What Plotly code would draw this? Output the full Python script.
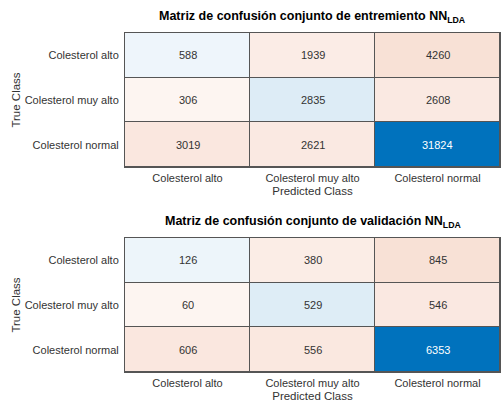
import plotly.graph_objects as go

classes = ["Colesterol alto", "Colesterol muy alto", "Colesterol normal"]
train_matrix = [[588, 1939, 4260],
                [306, 2835, 2608],
                [3019, 2621, 31824]]
valid_matrix = [[126, 380, 845],
                [60, 529, 546],
                [606, 556, 6353]]
titles = ["Matriz de confusión conjunto de entremiento NN<sub>LDA</sub>",
          "Matriz de confusión conjunto de validación NN<sub>LDA</sub>"]

W, H = 501, 405
FONT = "Liberation Sans, Arial, sans-serif"
TXT = "#333333"
BLUE = "#0072BD"
ORANGE = "#D95319"

fig = go.Figure()

panels = [
    (train_matrix, titles[0], (33, 167), "x", "y"),
    (valid_matrix, titles[1], (238, 372), "x2", "y2"),
]
x0p, x1p = 125, 500

for i, (m, title, (ytop, ybot), xa, ya) in enumerate(panels):
    mx = max(max(r) for r in m)
    diag = [[(0.05 + 0.95 * m[r][c] / mx) if r == c else None for c in range(3)] for r in range(3)]
    off = [[(0.05 + 0.95 * m[r][c] / mx) if r != c else None for c in range(3)] for r in range(3)]
    for z, col in ((diag, BLUE), (off, ORANGE)):
        fig.add_trace(go.Heatmap(
            z=z, x=classes, y=classes, xaxis=xa, yaxis=ya,
            colorscale=[[0, "#ffffff"], [1, col]], zmin=0, zmax=1,
            showscale=False, xgap=1, ygap=1, hoverinfo="skip"))
    for r in range(3):
        for c in range(3):
            fig.add_annotation(
                x=classes[c], y=classes[r], xref=xa, yref=ya,
                text=str(m[r][c]), showarrow=False,
                font=dict(family=FONT, size=11,
                          color="#ffffff" if m[r][c] == mx else TXT))
    suffix = "" if i == 0 else "2"
    dom_y = [1 - ybot / H, 1 - ytop / H]
    fig.layout["xaxis" + suffix] = dict(
        domain=[x0p / W, x1p / W], anchor=ya, showgrid=False, zeroline=False,
        showline=True, mirror=True, linecolor="#555555", linewidth=1, ticks="",
        automargin=False, ticklabelstandoff=1,
        tickfont=dict(family=FONT, size=11, color=TXT),
        title=dict(text="Predicted Class", font=dict(family=FONT, size=11.5, color=TXT), standoff=3),
        fixedrange=True)
    fig.layout["yaxis" + suffix] = dict(
        domain=dom_y, anchor=xa, showgrid=False, zeroline=False, autorange="reversed",
        showline=True, mirror=True, linecolor="#555555", linewidth=1, ticks="",
        automargin=False, ticklabelstandoff=3,
        tickfont=dict(family=FONT, size=11, color=TXT),
        title=dict(text="True Class", font=dict(family=FONT, size=11.5, color=TXT), standoff=1),
        fixedrange=True)
    fig.add_annotation(
        x=(x0p + x1p) / 2 / W, y=1 - (ytop - 16.5) / H, xref="paper", yref="paper",
        xanchor="center", yanchor="middle",
        text="<b>" + title.replace("<sub>", "</b><sub><b>").replace("</sub>", "</b></sub>"),
        showarrow=False, font=dict(family=FONT, size=12.5, color="#000000"))

fig.update_layout(
    width=W, height=H, margin=dict(l=0, r=0, t=0, b=0, pad=0, autoexpand=False),
    paper_bgcolor="#ffffff", plot_bgcolor="#555555", showlegend=False)

fig.write_html("out.html", config={"displayModeBar": False},
               post_script="document.body.style.margin='0';document.body.style.padding='0';")
